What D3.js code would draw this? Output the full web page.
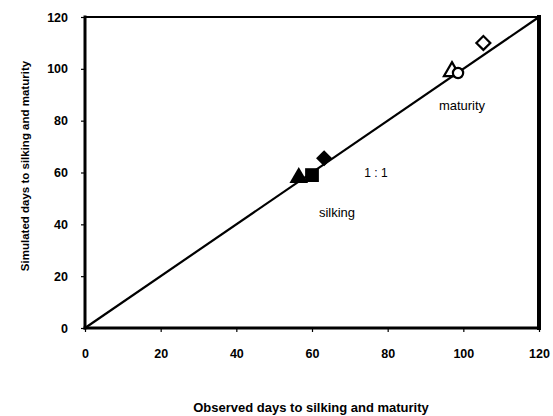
<!DOCTYPE html>
<html>
<head>
<meta charset="utf-8">
<script src="https://cdn.jsdelivr.net/npm/d3@7"></script>
<style>
  body { margin: 0; background: #fff; }
  text { font-family: "Liberation Sans", Arial, sans-serif; fill: #000; }
</style>
</head>
<body>
<svg id="chart" width="553" height="416"></svg>
<script>
const silkingObs = [56.5, 60, 63.2];
const silkingSim = [58, 59, 65.5];
const silkingShape = ['triangle', 'square', 'diamond'];

const maturityObs = [97, 98.6, 105.3];
const maturitySim = [99, 98.4, 110];
const maturityShape = ['triangle', 'circle', 'diamond'];

const ticks = [0, 20, 40, 60, 80, 100, 120];
const linha11 = [0, 120];

const svg = d3.select('#chart');
const margin = { left: 85, right: 14, top: 17, bottom: 88 };
const width = 553, height = 416;

const x = d3.scaleLinear().domain([0, 120]).range([margin.left, width - margin.right]);
const y = d3.scaleLinear().domain([0, 120]).range([height - margin.bottom, margin.top]);

// Eixos
const xAxis = svg.append('g')
    .attr('transform', `translate(0,${y(0)})`)
    .call(d3.axisBottom(x).tickValues(ticks).tickSize(4).tickPadding(17).tickSizeOuter(0));
const yAxis = svg.append('g')
    .attr('transform', `translate(${x(0)},0)`)
    .call(d3.axisLeft(y).tickValues(ticks).tickSize(4).tickPadding(13).tickSizeOuter(0));

[xAxis, yAxis].forEach(a => {
    a.select('.domain').remove();
    a.selectAll('line').attr('stroke', '#000').attr('stroke-width', 1.2);
    a.selectAll('text')
        .attr('font-size', 12.5)
        .attr('font-weight', 700)
        .attr('font-family', '"Liberation Sans", Arial, sans-serif');
});

// Moldura (lados com espessuras diferentes, como no original)
const bordas = [
    [0, 0, 0, 120, 3],
    [0, 0, 120, 0, 3],
    [0, 120, 120, 120, 2],
    [120, 0, 120, 120, 4]
];
svg.append('g').selectAll('line')
    .data(bordas)
    .enter().append('line')
    .attr('x1', d => x(d[0])).attr('y1', d => y(d[1]))
    .attr('x2', d => x(d[2])).attr('y2', d => y(d[3]))
    .attr('stroke', '#000')
    .attr('stroke-width', d => d[4])
    .attr('stroke-linecap', 'square');

// Linha 1:1
svg.append('line')
    .attr('x1', x(linha11[0])).attr('y1', y(linha11[0]))
    .attr('x2', x(linha11[1])).attr('y2', y(linha11[1]))
    .attr('stroke', '#000').attr('stroke-width', 2.2);

const symbolType = {
    triangle: d3.symbolTriangle,
    square: d3.symbolSquare,
    diamond: d3.symbolSquare,
    circle: d3.symbolCircle
};
const symbolSize = { triangle: 150, square: 190, diamond: 130, circle: 110 };

function marcador(d, escala) {
    const rot = d.s === 'diamond' ? ' rotate(45)' : '';
    return { t: `translate(${x(d.x)},${y(d.y)})${rot}`,
             p: d3.symbol().type(symbolType[d.s]).size(symbolSize[d.s] * escala)() };
}

// Silking: símbolos cheios
svg.append('g').selectAll('path')
    .data(silkingObs.map((v, i) => ({ x: v, y: silkingSim[i], s: silkingShape[i] })))
    .enter().append('path')
    .attr('transform', d => marcador(d, 1).t)
    .attr('d', d => marcador(d, 1).p)
    .attr('fill', '#000');

// Maturity: símbolos vazados
svg.append('g').selectAll('path')
    .data(maturityObs.map((v, i) => ({ x: v, y: maturitySim[i], s: maturityShape[i] })))
    .enter().append('path')
    .attr('transform', d => marcador(d, 0.75).t)
    .attr('d', d => marcador(d, 0.75).p)
    .attr('fill', '#fff')
    .attr('stroke', '#000')
    .attr('stroke-width', 2.2);

// Rótulos internos
svg.append('text').attr('x', 337).attr('y', 217).attr('text-anchor', 'middle')
    .attr('font-size', 13).text('silking');
svg.append('text').attr('x', 462).attr('y', 110).attr('text-anchor', 'middle')
    .attr('font-size', 13).text('maturity');
svg.append('text').attr('x', 376).attr('y', 177).attr('text-anchor', 'middle')
    .attr('font-size', 12).text('1 : 1');

// Títulos dos eixos
svg.append('text')
    .attr('x', 311).attr('y', 412).attr('text-anchor', 'middle')
    .attr('font-size', 13).attr('font-weight', 700)
    .text('Observed days to silking and maturity');
svg.append('text')
    .attr('transform', 'translate(29,166) rotate(-90)')
    .attr('text-anchor', 'middle')
    .attr('font-size', 11.5).attr('font-weight', 700)
    .text('Simulated days to silking and maturity');
</script>
</body>
</html>
